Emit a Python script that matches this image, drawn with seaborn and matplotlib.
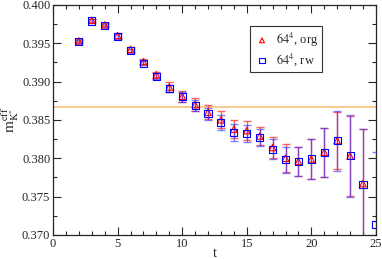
import matplotlib
matplotlib.use("Agg")
import matplotlib.pyplot as plt
import seaborn as sns
import pandas as pd
from matplotlib.ticker import MultipleLocator

# effective mass, reweighted (rw) and original (org) ensembles
t_rw = list(range(2, 26))
m_rw = [0.3952, 0.3979, 0.3973, 0.3959, 0.3940, 0.3924, 0.3907, 0.3891,
        0.3880, 0.3869, 0.3858, 0.3847, 0.3834, 0.3832, 0.3827, 0.3812,
        0.3798, 0.3796, 0.3799, 0.3808, 0.3823, 0.3803, 0.3766, 0.3714]
err_rw = [0.0002, 0.0002, 0.0002, 0.0003, 0.0003, 0.0003, 0.0004, 0.0005,
          0.0006, 0.0007, 0.0008, 0.0010, 0.0011, 0.0011, 0.0011, 0.0013,
          0.0017, 0.0019, 0.0026, 0.0032, 0.0039, 0.0054, 0.0072, 0.0094]

t_org = list(range(2, 25))
m_org = [0.3953, 0.3980, 0.3974, 0.3960, 0.3942, 0.3926, 0.3909, 0.3893,
         0.3881, 0.3870, 0.3860, 0.3850, 0.3838, 0.3836, 0.3829, 0.3814,
         0.3800, 0.3796, 0.3799, 0.3808, 0.3823, 0.3803, 0.3767]
err_org = [0.0002, 0.0002, 0.0002, 0.0003, 0.0003, 0.0003, 0.0004, 0.0006,
           0.0007, 0.0008, 0.0009, 0.0011, 0.0012, 0.0012, 0.0012, 0.0014,
           0.0018, 0.0019, 0.0026, 0.0032, 0.0037, 0.0052, 0.0071]

ref_mass = 0.3867

rw = pd.DataFrame({"t": t_rw, "m": m_rw, "err": err_rw})
org = pd.DataFrame({"t": t_org, "m": m_org, "err": err_org})

sns.set_style("ticks")
plt.rcParams['font.family'] = ['Liberation Serif', 'DejaVu Serif']
plt.rcParams['mathtext.fontset'] = 'stix'
plt.rcParams['font.size'] = 9

fig = plt.figure(figsize=(3.82, 2.59), dpi=100)
ax = fig.add_axes([0.139, 0.093, 0.845, 0.888])

ax.axhline(ref_mass, color="#f8c27e", lw=1.2, zorder=1)

ax.errorbar(org["t"], org["m"], yerr=org["err"], fmt="none", ecolor="#ff3333",
            elinewidth=1, capsize=3, capthick=1, alpha=0.75, zorder=2)
ax.errorbar(rw["t"], rw["m"], yerr=rw["err"], fmt="none", ecolor="#3333ff",
            elinewidth=1, capsize=3, capthick=1, alpha=0.6, zorder=3)

sns.scatterplot(data=org, x="t", y="m", marker="^", s=22, facecolor="none",
                edgecolor="#ff0000", linewidth=0.8, label=r"$64^4$, org",
                ax=ax, zorder=4)
sns.scatterplot(data=rw, x="t", y="m", marker="s", s=26, facecolor="none",
                edgecolor="#0000ff", linewidth=0.8, label=r"$64^4$, rw",
                ax=ax, zorder=5)

ax.set_xlim(0, 25)
ax.set_ylim(0.370, 0.400)
ax.xaxis.set_major_locator(MultipleLocator(5))
ax.xaxis.set_minor_locator(MultipleLocator(1))
ax.yaxis.set_major_locator(MultipleLocator(0.005))
ax.yaxis.set_minor_locator(MultipleLocator(0.0025))
ax.yaxis.set_major_formatter(matplotlib.ticker.FormatStrFormatter("%.3f"))
ax.tick_params(which="both", direction="in", top=True, right=True,
               labelsize=9, width=0.8, pad=2)
ax.tick_params(which="major", length=6)
ax.tick_params(which="minor", length=3)
for s in ax.spines.values():
    s.set_linewidth(0.9)

ax.set_xlabel("t", fontsize=10, labelpad=-2)
ax.set_ylabel(r"$\mathrm{m}_{\mathrm{K}^{*}}^{\mathrm{eff}}$", fontsize=11, labelpad=1)

leg = ax.legend(loc="upper left", bbox_to_anchor=(0.591, 0.935), frameon=True,
                fancybox=False, edgecolor="black", fontsize=9,
                handletextpad=0.5, borderpad=0.35, labelspacing=0.2,
                handlelength=1.2, markerscale=0.75)
leg.get_frame().set_linewidth(0.8)

fig.savefig("out.png", dpi=100)
